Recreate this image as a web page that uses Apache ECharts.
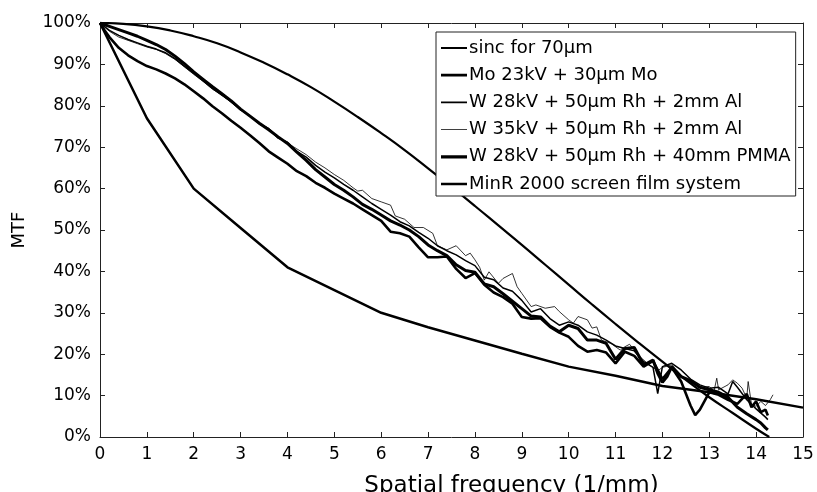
<!DOCTYPE html>
<html>
<head>
<meta charset="utf-8">
<script src="https://cdn.jsdelivr.net/npm/echarts@6/dist/echarts.min.js"></script>
<style>html,body{margin:0;padding:0;background:#fff;}#c{width:817px;height:492px;}</style>
</head>
<body>
<div id="c"></div>
<script>
// Series names (legend order)
var seriesNames = ['sinc for 70μm', 'Mo 23kV + 30μm Mo', 'W 28kV + 50μm Rh + 2mm Al', 'W 35kV + 50μm Rh + 2mm Al', 'W 28kV + 50μm Rh + 40mm PMMA', 'MinR 2000 screen film system'];

// [spatial frequency (1/mm), MTF %]
var sincData = [[0,100],[0.5,99.8],[1,99.2],[1.5,98.2],[2,96.8],[2.5,95.1],[3,92.9],[3.5,90.4],[4,87.6],[4.5,84.5],[5,81.0],[5.5,77.3],[6,73.4],[6.5,69.3],[7,64.9],[7.5,60.4],[8,55.8],[8.5,51.1],[9,46.4],[9.5,41.6],[10,36.8],[10.5,32.0],[11,27.3],[11.5,22.7],[12,18.2],[12.5,13.8],[13,9.6],[13.5,5.8],[14,2.0],[14.28,0]];

var moData = [[0,100],[0.1,98.2],[0.2,96.6],[0.4,94.0],[0.6,92.2],[0.8,90.8],[1.0,89.6],[1.2,88.8],[1.4,87.8],[1.6,86.6],[1.8,85.2],[2.0,83.5],[2.2,81.8],[2.4,79.9],[2.6,78.2],[2.8,76.4],[3.0,74.7],[3.2,72.9],[3.4,71.0],[3.6,69.0],[3.8,67.5],[4.0,66.0],[4.2,64.2],[4.4,63.0],[4.6,61.4],[4.8,60.2],[5.0,58.8],[5.2,57.6],[5.4,56.4],[5.6,55.0],[5.8,53.6],[6.0,52.2],[6.2,49.6],[6.4,49.2],[6.6,48.4],[6.8,45.8],[7.0,43.4],[7.2,43.4],[7.4,43.6],[7.6,40.6],[7.8,38.4],[8.0,39.6],[8.2,36.8],[8.4,34.9],[8.6,33.8],[8.8,32.2],[9.0,29.0],[9.2,28.6],[9.4,28.7],[9.6,26.6],[9.8,25.2],[10.0,24.2],[10.2,22.0],[10.4,20.6],[10.6,21.0],[10.8,20.4],[11.0,17.8],[11.2,20.6],[11.4,19.6],[11.6,17.0],[11.8,18.4],[12.0,14.0],[12.2,16.8],[12.4,13.4],[12.6,7.6],[12.7,5.3],[12.8,6.6],[13.0,10.8],[13.2,10.2],[13.4,9.0],[13.6,8.0],[13.8,10.4],[13.9,7.2],[14.0,8.6],[14.1,6.0],[14.2,6.6],[14.25,5.2]];

var w28AlData = [[0,100],[0.2,98.2],[0.4,97.0],[0.6,96.0],[0.8,95.2],[1.0,94.4],[1.2,93.7],[1.4,92.8],[1.6,91.4],[1.8,89.6],[2.0,87.8],[2.2,86.0],[2.4,84.2],[2.6,82.6],[2.8,81.0],[3.0,79.0],[3.2,77.6],[3.4,75.6],[3.6,74.4],[3.8,72.2],[4.0,71.2],[4.2,69.0],[4.4,67.6],[4.6,65.6],[4.8,64.0],[5.0,62.6],[5.2,61.0],[5.4,59.6],[5.6,58.0],[5.8,56.4],[6.0,55.0],[6.2,53.6],[6.4,52.0],[6.6,51.0],[6.8,49.4],[7.0,48.0],[7.2,46.2],[7.4,45.0],[7.6,44.0],[7.8,42.6],[8.0,41.4],[8.2,38.6],[8.4,38.0],[8.6,36.0],[8.8,35.2],[9.0,33.0],[9.2,30.2],[9.4,31.0],[9.6,28.6],[9.8,27.0],[10.0,27.8],[10.2,27.0],[10.4,25.4],[10.6,24.6],[10.8,23.4],[11.0,22.0],[11.2,21.4],[11.4,20.8],[11.6,18.2],[11.8,16.8],[11.9,10.5],[12.0,17.0],[12.2,17.8],[12.4,16.2],[12.6,14.0],[12.8,12.6],[13.0,11.8],[13.2,12.0],[13.4,10.4],[13.5,13.4],[13.6,12.0],[13.8,9.0],[14.0,6.8],[14.2,4.8],[14.25,4.2]];

var w35AlData = [[0,100],[0.2,98.0],[0.4,96.6],[0.6,95.8],[0.8,95.0],[1.0,94.2],[1.2,93.6],[1.4,92.6],[1.6,91.2],[1.8,89.4],[2.0,87.6],[2.2,85.9],[2.4,84.0],[2.6,82.6],[2.8,80.8],[3.0,79.2],[3.2,77.4],[3.4,75.8],[3.6,74.6],[3.8,72.4],[4.0,71.0],[4.2,69.6],[4.4,68.2],[4.6,66.4],[4.8,65.0],[5.0,63.4],[5.2,62.0],[5.4,60.2],[5.5,59.4],[5.6,59.6],[5.8,57.6],[6.0,56.8],[6.2,56.0],[6.3,53.4],[6.5,52.6],[6.7,50.6],[6.9,50.6],[7.1,49.2],[7.2,46.2],[7.4,45.2],[7.6,46.2],[7.8,43.8],[7.9,44.4],[8.0,42.8],[8.1,41.0],[8.2,37.9],[8.3,39.9],[8.5,37.1],[8.6,38.3],[8.8,39.5],[8.9,36.3],[9.0,34.7],[9.2,31.5],[9.3,31.9],[9.5,31.1],[9.7,31.5],[9.8,30.3],[10.0,28.3],[10.1,27.5],[10.2,29.1],[10.4,28.3],[10.5,26.3],[10.6,26.6],[10.7,23.4],[10.9,22.6],[11.1,21.0],[11.2,21.8],[11.3,22.4],[11.5,19.6],[11.7,17.6],[11.9,16.0],[12.0,16.8],[12.2,17.4],[12.4,14.6],[12.6,13.2],[12.8,12.0],[13.0,12.2],[13.1,11.0],[13.16,14.2],[13.2,11.4],[13.4,12.6],[13.5,13.8],[13.6,13.0],[13.7,11.8],[13.8,9.4],[13.83,13.4],[13.9,8.0],[14.0,7.4],[14.1,8.6],[14.2,7.6],[14.3,9.0],[14.36,10.2]];

var pmmaData = [[0,100],[0.2,99.2],[0.4,98.4],[0.6,97.6],[0.8,96.8],[1.0,95.8],[1.2,94.8],[1.4,93.6],[1.6,92.0],[1.8,90.2],[2.0,88.2],[2.2,86.4],[2.4,84.6],[2.6,82.9],[2.8,81.2],[3.0,79.2],[3.2,77.5],[3.4,75.8],[3.6,74.2],[3.8,72.5],[4.0,70.9],[4.2,68.8],[4.4,66.8],[4.6,64.6],[4.8,62.8],[5.0,61.0],[5.2,59.6],[5.4,58.0],[5.6,56.2],[5.8,55.0],[6.0,53.6],[6.2,52.2],[6.4,51.2],[6.6,50.0],[6.8,48.4],[7.0,46.4],[7.2,45.0],[7.4,43.8],[7.6,41.6],[7.8,40.2],[8.0,39.8],[8.2,37.0],[8.4,36.3],[8.6,34.6],[8.8,32.8],[9.0,31.0],[9.2,29.2],[9.4,29.0],[9.6,26.8],[9.8,25.4],[10.0,27.0],[10.2,26.2],[10.4,23.4],[10.6,23.4],[10.8,22.6],[11.0,18.8],[11.2,21.4],[11.4,21.6],[11.6,17.4],[11.8,18.6],[11.9,15.4],[12.0,13.2],[12.1,14.6],[12.2,17.0],[12.4,14.6],[12.6,13.6],[12.8,12.0],[13.0,11.4],[13.2,10.8],[13.4,9.6],[13.6,7.2],[13.8,5.6],[14.0,4.2],[14.1,3.4],[14.2,2.2],[14.25,1.7]];

var minrData = [[0,100],[1,77],[2,60],[3,50.5],[4,41],[5,35.5],[6,30],[7,26.5],[8,23.3],[9,20.1],[10,17],[11,14.8],[12,12.3],[13,10.8],[14,9.1],[15,7.1]];

var xTicks = {min: 0, max: 15, interval: 1};
var yTicks = {min: 0, max: 100, interval: 10};

var FONT = 'DejaVu Sans';
var chart = echarts.init(document.getElementById('c'), null, {renderer: 'canvas'});

var widths = [2.2, 2.6, 1.5, 0.8, 3.0, 2.5];

function mkSeries(i, data, smooth) {
  return {
    name: seriesNames[i], type: 'line', data: data, symbol: 'none', smooth: smooth || false,
    lineStyle: {color: '#000', width: widths[i]}, itemStyle: {color: '#000'},
    animation: false, z: 3
  };
}

// legend icon: a horizontal bar of given thickness in a 26x14 box
function legendIcon(t) {
  var a = (7 - t / 2).toFixed(2), b = (7 + t / 2).toFixed(2);
  return 'path://M0,0L0.01,0L0,0.01Z M26,14L25.99,14L26,13.99Z M0,' + a + 'H26V' + b + 'H0Z';
}
var legendThick = [2.0, 2.7, 1.7, 0.8, 3.3, 2.7];

var axisLine = {show: true, onZero: false, lineStyle: {color: '#222', width: 1}};
var tick = {show: true, inside: true, length: 5, lineStyle: {color: '#222', width: 1}};

chart.setOption({
  backgroundColor: '#fff',
  animation: false,
  grid: {left: 100, right: 14, top: 23, bottom: 55, containLabel: false, outerBoundsMode: 'none'},
  legend: {
    orient: 'vertical', left: 436, top: 32,
    data: seriesNames.map(function (n, i) { return {name: n, icon: legendIcon(legendThick[i]), itemStyle: {color: '#000', borderWidth: 0}}; }),
    itemWidth: 26, itemHeight: 14, itemGap: 9.2,
    padding: [7, 5, 3, 5],
    borderColor: '#222', borderWidth: 1, backgroundColor: '#fff',
    selectedMode: false,
    textStyle: {fontFamily: FONT, fontSize: 18, color: '#000', lineHeight: 17, padding: [0, 0, 0, -3]},
    z: 10
  },
  xAxis: [
    {type: 'value', min: xTicks.min, max: xTicks.max, interval: xTicks.interval, position: 'bottom',
     name: 'Spatial frequency (1/mm)', nameLocation: 'middle', nameGap: 38,
     nameTextStyle: {fontFamily: FONT, fontSize: 23, color: '#000', padding: [0, 0, 0, 120]},
     axisLine: axisLine, axisTick: tick, splitLine: {show: false},
     axisLabel: {fontFamily: FONT, fontSize: 17, color: '#000', margin: 9}},
    {type: 'value', min: xTicks.min, max: xTicks.max, interval: xTicks.interval, position: 'top',
     axisLine: axisLine, axisTick: tick, splitLine: {show: false}, axisLabel: {show: false}}
  ],
  yAxis: [
    {type: 'value', min: yTicks.min, max: yTicks.max, interval: yTicks.interval, position: 'left',
     name: 'MTF', nameLocation: 'middle', nameGap: 72,
     nameTextStyle: {fontFamily: FONT, fontSize: 18, color: '#000'},
     axisLine: axisLine, axisTick: tick, splitLine: {show: false},
     axisLabel: {fontFamily: FONT, fontSize: 17, color: '#000', margin: 9, formatter: '{value}%'}},
    {type: 'value', min: yTicks.min, max: yTicks.max, interval: yTicks.interval, position: 'right',
     axisLine: axisLine, axisTick: tick, splitLine: {show: false}, axisLabel: {show: false}}
  ],
  series: [
    mkSeries(0, sincData, true),
    mkSeries(1, moData),
    mkSeries(2, w28AlData),
    mkSeries(3, w35AlData),
    mkSeries(4, pmmaData),
    mkSeries(5, minrData)
  ]
});
</script>
</body>
</html>
